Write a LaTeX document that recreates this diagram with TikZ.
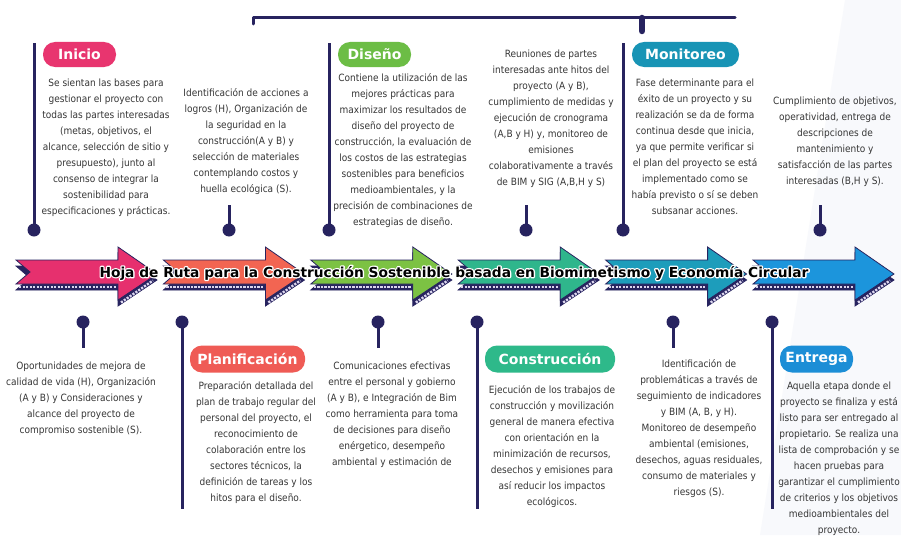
\documentclass[tikz,border=0pt]{standalone}
\usepackage{fontspec}
\setmainfont{DejaVu Sans}
\newfontfamily\condfont{DejaVu Sans Condensed}
\definecolor{navy}{HTML}{27235F}
\definecolor{txt}{HTML}{363636}
\definecolor{cPink}{HTML}{E6306E}
\definecolor{cOrange}{HTML}{F26552}
\definecolor{cGreen}{HTML}{7CC243}
\definecolor{cTealG}{HTML}{2FB68C}
\definecolor{cTeal}{HTML}{1D9DBB}
\definecolor{cBlue}{HTML}{1C95DC}
\definecolor{pPink}{HTML}{E8356F}
\definecolor{pGreen}{HTML}{6CBD45}
\definecolor{pTeal}{HTML}{1894B5}
\definecolor{pRed}{HTML}{EF5B55}
\definecolor{pTealG}{HTML}{2EB98A}
\definecolor{pBlue}{HTML}{1C8ED6}
\definecolor{bgfaint}{HTML}{F8F9FC}
\definecolor{perf}{HTML}{DCD6EE}
\tikzset{
  body/.style={align=center, font=\condfont\fontsize{10}{16}\selectfont, text=txt, inner sep=0pt, anchor=north},
  pill/.style={rounded corners=12pt, minimum height=25pt, text=white, font=\fontsize{14}{16}\selectfont\bfseries, inner sep=0pt},
  dotnode/.style={circle, fill=navy, minimum size=13pt, inner sep=0pt},
  stem/.style={line width=3pt, navy},
  perfo/.style={dash pattern=on 2.2pt off 1.3pt, line width=2.4pt, perf},
  titletext/.style={font=\fontsize{13.75}{15}\selectfont\bfseries, inner sep=0pt}
}
\newcommand{\ribbon}[2]{%
\begin{scope}[shift={(#1,0)}]
\path[fill=navy, draw=navy, line width=0.8pt] (0,266) -- (102,266) -- (102,253) -- (141,280) -- (102,306) -- (102,290) -- (0,290) -- (14,278) -- cycle;
\path[fill=#2, draw=navy, line width=0.8pt] (0,260) -- (102,260) -- (102,247) -- (141,274) -- (102,300) -- (102,284) -- (0,284) -- (14,272) -- cycle;
\draw[perfo] (3,287.2) -- (100,287.2);
\draw[perfo] (105,302.5) -- (137,280.5);
\end{scope}}
\begin{document}
\begin{tikzpicture}[x=1pt,y=-1pt]
\clip (0,0) rectangle (901,535);
\fill[white] (0,0) rectangle (901,535);
\fill[bgfaint] (845,0) -- (901,0) -- (901,535) -- (760,535) -- cycle;

% top bracket
\coordinate (bl) at (253,24);
\coordinate (bc) at (253,18);
\coordinate (br) at (735,18);
\draw[line width=3pt, navy, line cap=round, line join=round] (bl) -- (bc) -- (br);
\coordinate (st1) at (642,18);
\coordinate (st2) at (642,31);
\draw[line width=6.5pt, navy, line cap=round] (st1) -- (st2);

% arrows
\ribbon{16}{cPink}
\ribbon{163.4}{cOrange}
\ribbon{310.8}{cGreen}
\ribbon{458.2}{cTealG}
\ribbon{605.6}{cTeal}
\ribbon{753}{cBlue}

\node[titletext, text=white] (titleglow) at (454,273) {\special{pdf:literal direct 2 Tr 2.6 w 1 1 1 RG 1 j}Hoja de Ruta para la Construcción Sostenible basada en Biomimetismo y Economía Circular\special{pdf:literal direct 0 Tr}};
\node[titletext, text=black] (title) at (454,273) {Hoja de Ruta para la Construcción Sostenible basada en Biomimetismo y Economía Circular};

% top stems and dots
\node[dotnode] (d1) at (34,230) {};
\node[dotnode] (d2) at (229,230) {};
\node[dotnode] (d3) at (329,230) {};
\node[dotnode] (d4) at (526,230) {};
\node[dotnode] (d5) at (623,230) {};
\node[dotnode] (d6) at (820,230) {};
\coordinate (e1) at (34,43);
\coordinate (e2) at (229,205);
\coordinate (e3) at (329,43);
\coordinate (e4) at (526,205);
\coordinate (e5) at (623,43);
\coordinate (e6) at (820,205);
\foreach \i in {1,...,6} {\draw[stem] (d\i.center) -- (e\i);}

% bottom stems and dots
\node[dotnode] (f1) at (83,322) {};
\node[dotnode] (f2) at (182,322) {};
\node[dotnode] (f3) at (378,322) {};
\node[dotnode] (f4) at (477,322) {};
\node[dotnode] (f5) at (673,322) {};
\node[dotnode] (f6) at (772,322) {};
\coordinate (g1) at (83,348);
\coordinate (g2) at (182,509);
\coordinate (g3) at (378,348);
\coordinate (g4) at (477,509);
\coordinate (g5) at (673,348);
\coordinate (g6) at (772,509);
\foreach \i in {1,...,6} {\draw[stem] (f\i.center) -- (g\i);}

% pills
\node[pill, fill=pPink, minimum width=73pt] (inicio) at (79.5,54.5) {Inicio};
\node[pill, fill=pGreen, minimum width=73pt] (diseno) at (374.5,54.5) {Diseño};
\node[pill, fill=pTeal, minimum width=107pt] (monitoreo) at (685.5,54.5) {Monitoreo};
\node[pill, fill=pRed, minimum width=115pt, minimum height=27pt] (planif) at (247.5,359) {Planificación};
\node[pill, fill=pTealG, minimum width=130pt, minimum height=27pt] (constr) at (550,359) {Construcción};
\node[pill, fill=pBlue, minimum width=73pt, minimum height=27pt] (entrega) at (816.5,359) {Entrega};

% top texts
\node[body] (t1) at (106,79) {Se sientan las bases para\\gestionar el proyecto con\\todas las partes interesadas\\(metas, objetivos, el\\alcance, selección de sitio y\\presupuesto), junto al\\consenso de integrar la\\sostenibilidad para\\especificaciones y prácticas.};
\node[body] (t2) at (246,88) {Identificación de acciones a\\logros (H), Organización de\\la seguridad en la\\construcción(A y B) y\\selección de materiales\\contemplando costos y\\huella ecológica (S).};
\node[body] (t3) at (403,73) {Contiene la utilización de las\\mejores prácticas para\\maximizar los resultados de\\diseño del proyecto de\\construcción, la evaluación de\\los costos de las estrategias\\sostenibles para beneficios\\medioambientales, y la\\precisión de combinaciones de\\estrategias de diseño.};
\node[body] (t4) at (551,50) {Reuniones de partes\\interesadas ante hitos del\\proyecto (A y B),\\cumplimiento de medidas y\\ejecución de cronograma\\(A,B y H) y, monitoreo de\\emisiones\\colaborativamente a través\\de BIM y SIG (A,B,H y S)};
\node[body] (t5) at (695,79) {Fase determinante para el\\éxito de un proyecto y su\\realización se da de forma\\continua desde que inicia,\\ya que permite verificar si\\el plan del proyecto se está\\implementado como se\\había previsto o sí se deben\\subsanar acciones.};
\node[body] (t6) at (835,97) {Cumplimiento de objetivos,\\operatividad, entrega de\\descripciones de\\mantenimiento y\\satisfacción de las partes\\interesadas (B,H y S).};

% bottom texts
\node[body] (b1) at (81,362) {Oportunidades de mejora de\\calidad de vida (H), Organización\\(A y B) y Consideraciones y\\alcance del proyecto de\\compromiso sostenible (S).};
\node[body] (b2) at (256,381) {Preparación detallada del\\plan de trabajo regular del\\personal del proyecto, el\\reconocimiento de\\colaboración entre los\\sectores técnicos, la\\definición de tareas y los\\hitos para el diseño.};
\node[body] (b3) at (392,362) {Comunicaciones efectivas\\entre el personal y gobierno\\(A y B), e Integración de Bim\\como herramienta para toma\\de decisiones para diseño\\enérgetico, desempeño\\ambiental y estimación de};
\node[body] (b4) at (552,385) {Ejecución de los trabajos de\\construcción y movilización\\general de manera efectiva\\con orientación en la\\minimización de recursos,\\desechos y emisiones para\\así reducir los impactos\\ecológicos.};
\node[body] (b5) at (699,359) {Identificación de\\problemáticas a través de\\seguimiento de indicadores\\y BIM (A, B, y H).\\Monitoreo de desempeño\\ambiental (emisiones,\\desechos, aguas residuales,\\consumo de materiales y\\riesgos (S).};
\node[body] (b6) at (839,382) {Aquella etapa donde el\\proyecto se finaliza y está\\listo para ser entregado al\\propietario. Se realiza una\\lista de comprobación y se\\hacen pruebas para\\garantizar el cumplimiento\\de criterios y los objetivos\\medioambientales del\\proyecto.};
\end{tikzpicture}
\end{document}
